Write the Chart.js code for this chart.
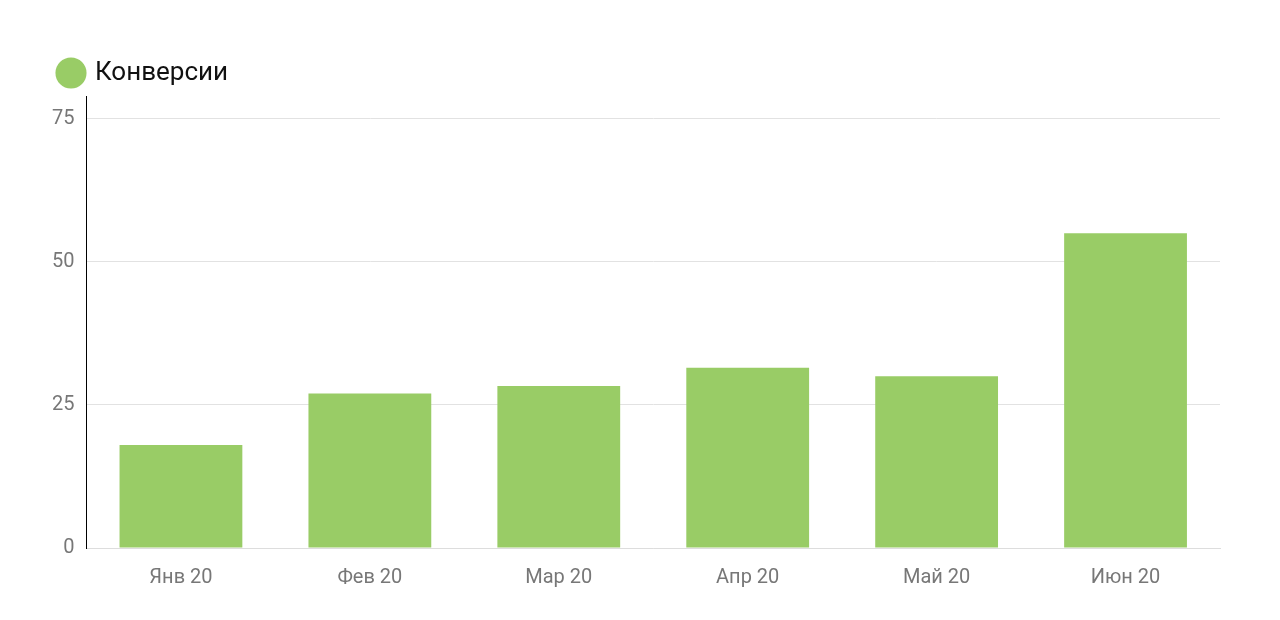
<!DOCTYPE html>
<html><head><meta charset="utf-8">
<script src="https://cdn.jsdelivr.net/npm/chart.js@4"></script>
<style>html,body{margin:0;background:#fff}#w{width:1280px;height:620px}</style>
</head><body><div id="w"><canvas id="c"></canvas></div>
<script>
const categories = ["Янв 20","Фев 20","Мар 20","Апр 20","Май 20","Июн 20"];
const conversions = [18, 27, 28.3, 31.5, 30, 55];
const yTicks = [0, 25, 50, 75];
new Chart(document.getElementById('c'), {
  type: 'bar',
  data: { labels: categories, datasets: [{ label: 'Конверсии', data: conversions, backgroundColor: '#99cc66', categoryPercentage: 0.65, barPercentage: 1 }] },
  options: {
    responsive: true, maintainAspectRatio: false, animation: false,
    layout: { padding: { left: 40, right: 60, top: 40, bottom: 20 } },
    plugins: {
      legend: { align: 'start', labels: { usePointStyle: true, pointStyle: 'circle', boxWidth: 22, boxHeight: 22, color: '#111', font: { family: 'Roboto', size: 26 }, padding: 20 } },
      tooltip: { enabled: false }
    },
    scales: {
      x: { grid: { display: false }, border: { color: '#ddd' }, ticks: { color: '#777', font: { family: 'Roboto', size: 20 }, padding: 10 } },
      y: { min: 0, max: 79, afterBuildTicks: a => { a.ticks = yTicks.map(v => ({ value: v })); },
           grid: { color: '#e2e2e2', drawTicks: false }, border: { color: '#000' },
           ticks: { color: '#777', font: { family: 'Roboto', size: 20 }, padding: 12 } }
    }
  }
});
</script></body></html>
